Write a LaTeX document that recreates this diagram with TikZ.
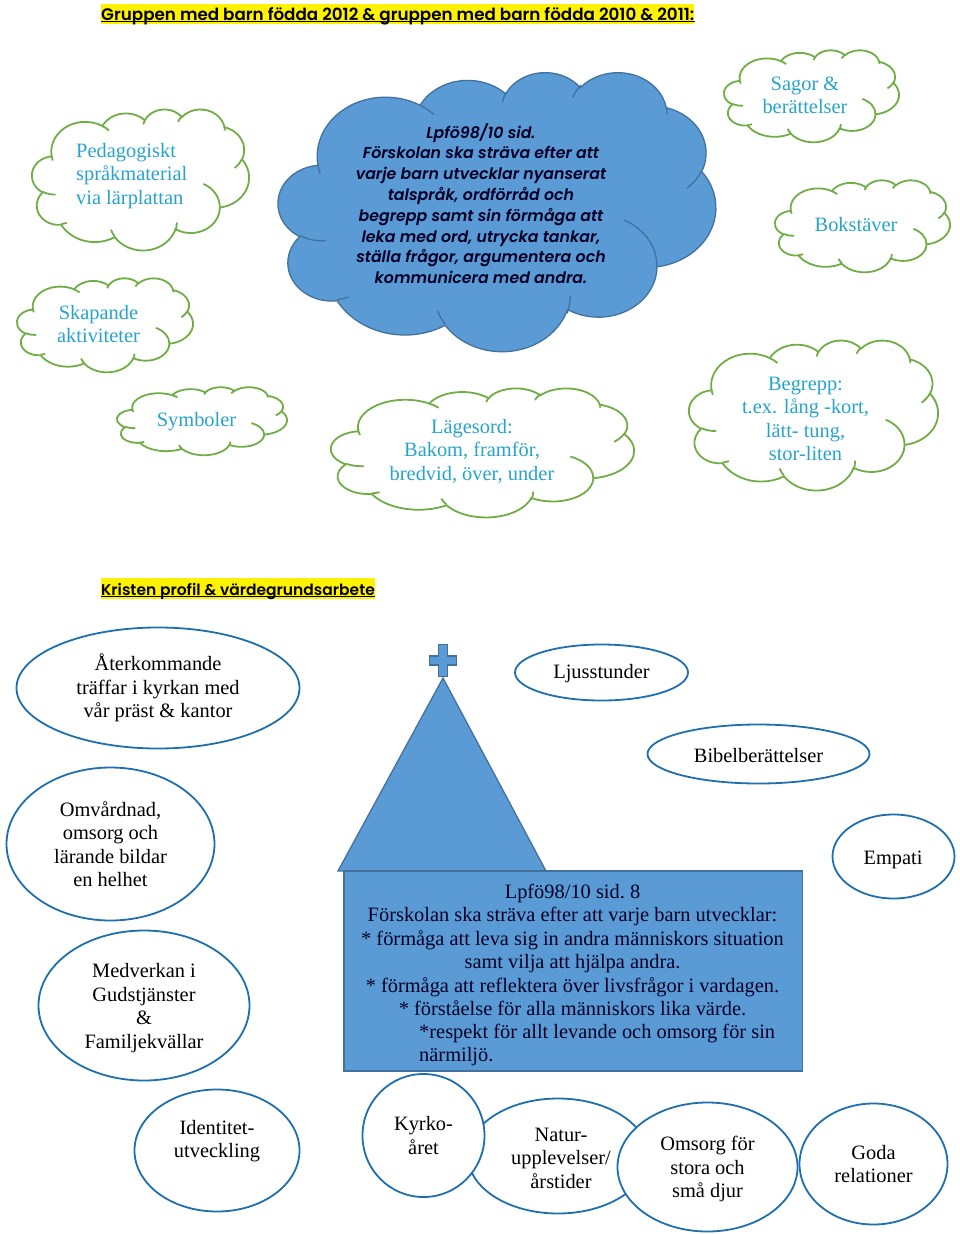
\documentclass[tikz,border=0pt]{standalone}
\usepackage{fontspec}
\setmainfont{Liberation Serif}
\newfontfamily\gothic{Poppins}[BoldFont={Poppins SemiBold}]
\usetikzlibrary{shapes.geometric}
\definecolor{fillblue}{HTML}{5B9BD5}
\definecolor{edgeblue}{HTML}{41719C}
\definecolor{leafgreen}{HTML}{70AD47}
\definecolor{skytext}{HTML}{27A3CC}
\definecolor{ringblue}{HTML}{1F6FAE}
\tikzset{
  bluecloud/.style = {draw=edgeblue, fill=fillblue, line width=1.3pt},
  greencloud/.style = {draw=leafgreen, line width=1.8pt},
  cloudtext/.style = {align=center, inner sep=0pt, text=skytext,
                      font=\fontsize{20.4}{23.5}\selectfont},
  lpfotext/.style  = {align=center, inner sep=0pt, text=black!85!blue,
                      font=\gothic\bfseries\itshape\fontsize{15.8}{20.8}\selectfont},
  ring/.style      = {shape=ellipse, draw=ringblue, fill=white, line width=1.8pt,
                      align=center, inner sep=0pt,
                      font=\fontsize{20.4}{23.5}\selectfont},
  ringtext/.style  = {inner sep=0pt, align=center,
                      font=\fontsize{20.4}{23.5}\selectfont},
  heading/.style   = {anchor=west, fill=yellow, inner xsep=0pt, inner ysep=0pt,
                      font=\gothic\bfseries\fontsize{16.75}{18}\selectfont},
  headline/.style  = {draw=black, line width=1.3pt},
  churchpart/.style = {draw=edgeblue, fill=fillblue, line width=1.3pt},
  boxtext/.style   = {inner sep=0pt, text=black!85!blue,
                      font=\fontsize{20.4}{23.5}\selectfont}
}
% cloud outline in a 432 x 432 box
\newcommand{\cloudshape}[5]{
  \begin{scope}[shift={(#1,#2)},xscale=#3/432,yscale=#4/432]
    \draw[#5] (39,143.7)
      arc[start angle=-187.75,end angle=-59.61,x radius=67.53,y radius=91.9]
      arc[start angle=-152.02,end angle=-45.46,x radius=53.33,y radius=72.67]
      arc[start angle=-153.49,end angle=-37.33,x radius=43.65,y radius=59.45]
      arc[start angle=-139.71,end angle=-10.21,x radius=48.57,y radius=65.95]
      arc[start angle=-74.77,end angle=23.21,x radius=53.33,y radius=72.73]
      arc[start angle=-37.52,end angle=81.86,x radius=67.75,y radius=92.2]
      arc[start angle=0.46,end angle=121.97,x radius=57.85,y radius=78.67]
      arc[start angle=16.84,end angle=146.24,x radius=67.52,y radius=92.15]
      arc[start angle=58.98,end angle=150.18,x radius=77.2,y radius=105.43]
      arc[start angle=-276.69,end angle=-136.91,x radius=43.6,y radius=59.18]
      arc[start angle=-239.68,end angle=-95.89,x radius=43.45,y radius=59.45]
      -- cycle;
    \draw[#5,fill=none] (46.93,261.77) arc[start angle=85.54,end angle=120.32,x radius=43.45,y radius=59.45];
    \draw[#5,fill=none] (69.28,348.99) arc[start angle=68.24,end angle=83.31,x radius=43.6,y radius=59.18];
    \draw[#5,fill=none] (164.78,390.9) arc[start angle=146.24,end angle=160.7,x radius=67.52,y radius=92.15];
    \draw[#5,fill=none] (288.27,347.51) arc[start angle=0,end angle=16.84,x radius=67.52,y radius=92.15];
    \draw[#5,fill=none] (341.29,229.54) arc[start angle=-64.1,end angle=0.46,x radius=57.85,y radius=78.67];
    \draw[#5,fill=none] (417.98,153.54) arc[start angle=23.21,end angle=49.7,x radius=53.33,y radius=72.73];
    \draw[#5,fill=none] (383.24,54.26) arc[start angle=-10.21,end angle=0,x radius=48.57,y radius=65.95];
    \draw[#5,fill=none] (290.78,39.52) arc[start angle=-159,end angle=-139.71,x radius=48.57,y radius=65.95];
    \draw[#5,fill=none] (221.41,47.2) arc[start angle=-169.3,end angle=-153.49,x radius=43.65,y radius=59.45];
    \draw[#5,fill=none] (140,51.92) arc[start angle=-59.61,end angle=-45,x radius=67.53,y radius=91.9];
    \draw[#5,fill=none] (41.27,157.89) arc[start angle=-196.8,end angle=-187.75,x radius=67.53,y radius=91.9];
  \end{scope}
}
\begin{document}
\begin{tikzpicture}[x=1pt,y=1pt,yscale=-1]
\useasboundingbox (0,0) rectangle (960,1234);
\node [heading,text height=16pt,text depth=3.5pt] (head1) at (101,13.75) {Gruppen med barn födda 2012 \& gruppen med barn födda 2010 \& 2011:};
\draw [headline] ([yshift=-2.5pt]head1.south west) -- ([yshift=-2.5pt]head1.south east);
% clouds
\cloudshape{278.3}{71.7}{437.4}{279}{bluecloud}
\cloudshape{32}{109}{217}{141}{greencloud}
\cloudshape{17}{278}{176}{94}{greencloud}
\cloudshape{117}{387}{170}{68}{greencloud}
\cloudshape{724}{50}{175}{92}{greencloud}
\cloudshape{775}{180}{175}{92}{greencloud}
\cloudshape{331}{388}{303}{129}{greencloud}
\cloudshape{689}{340}{249}{150}{greencloud}
\node [lpfotext] (lpfo) at (481,203.5) {Lpfö98/10 sid.\\ Förskolan ska sträva efter att\\varje barn utvecklar nyanserat\\talspråk, ordförråd och\\begrepp samt sin förmåga att\\leka med ord, utrycka tankar,\\ställa frågor, argumentera och\\kommunicera med andra.};
\node [cloudtext,align=left,anchor=west] (peda) at (76,176) {Pedagogiskt\\språkmaterial\\via lärplattan};
\node [cloudtext] (skap) at (98.5,324) {Skapande\\aktiviteter};
\node [cloudtext] (symb) at (196.5,422) {Symboler};
\node [cloudtext] (lage) at (472,451) {Lägesord:\\Bakom, framför,\\bredvid, över, under};
\node [cloudtext] (sago) at (805,95.5) {Sagor \&\\berättelser};
\node [cloudtext] (boks) at (856,224.5) {Bokstäver};
\node [cloudtext] (begr) at (805.5,419) {Begrepp:\\t.ex. lång -kort,\\lätt- tung,\\stor-liten};
\node [heading,font=\gothic\bfseries\fontsize{15.5}{18}\selectfont,text height=17pt,text depth=4pt] (head2) at (101,588.5) {Kristen profil \& värdegrundsarbete};
\draw [headline] ([yshift=-2.5pt]head2.south west) -- ([yshift=-2.5pt]head2.south east);
% church
\draw [churchpart] (443,678) -- (338,871) -- (546,871) -- cycle;
\draw [churchpart] (438.5,644.5) -- (447.5,644.5) -- (447.5,656) -- (456.5,656) -- (456.5,665) -- (447.5,665) -- (447.5,676.5) -- (438.5,676.5) -- (438.5,665) -- (429.5,665) -- (429.5,656) -- (438.5,656) -- cycle;
\draw [churchpart] (344,871) rectangle (802.5,1071);
\node [boxtext,align=center] (mainbox) at (572.5,950) {Lpfö98/10 sid.\ 8\\Förskolan ska sträva efter att varje barn utvecklar:\\* förmåga att leva sig in andra människors situation\\samt vilja att hjälpa andra.\\* förmåga att reflektera över livsfrågor i vardagen.\\* förståelse för alla människors lika värde.};
\node [boxtext,align=left,anchor=west] (mainrest) at (419,1045) {*respekt för allt levande och omsorg för sin\\närmiljö.};
% rings
\node [ring,minimum width=283,minimum height=121] (aterk) at (158,688) {Återkommande\\träffar i kyrkan med\\vår präst \& kantor};
\node [ring,minimum width=173,minimum height=56] (ljus) at (601.5,672.5) {};
\node [ringtext] (ljustext) at (601.5,673.5) {Ljusstunder};
\node [ring,minimum width=222,minimum height=59] (bibel) at (758.5,754) {};
\node [ringtext] (bibeltext) at (758.5,755.5) {Bibelberättelser};
\node [ring,minimum width=208,minimum height=153] (omv) at (110.5,844) {Omvårdnad,\\omsorg och\\lärande bildar\\en helhet};
\node [ring,minimum width=211,minimum height=150] (medv) at (144,1005.5) {};
\node [ringtext] (medvtext) at (144,1008) {Medverkan i\\Gudstjänster\\\&\\Familjekvällar};
\node [ring,minimum width=122,minimum height=84] (empati) at (893.5,856.5) {};
\node [ringtext] (empatitext) at (893,860) {Empati};
\node [ring,minimum width=165,minimum height=122] (ident) at (217,1150.5) {};
\node [ringtext] (identtext) at (217,1141) {Identitet-\\utveckling};
\node [ring,minimum width=180,minimum height=115] (natur) at (558,1156) {};
\node [ring,minimum width=122,minimum height=123] (kyrko) at (423.5,1135.5) {Kyrko-\\året};
\node [ring,minimum width=180,minimum height=129] (omsorg) at (707.5,1167) {};
\node [ringtext] (omsorgtext) at (707.5,1169) {Omsorg för\\stora och\\små djur};
\node [ring,minimum width=148,minimum height=121] (goda) at (873.5,1164) {Goda\\relationer};
\node [ringtext] (naturtext) at (561,1158) {Natur-\\upplevelser/\\årstider};
\end{tikzpicture}
\end{document}
